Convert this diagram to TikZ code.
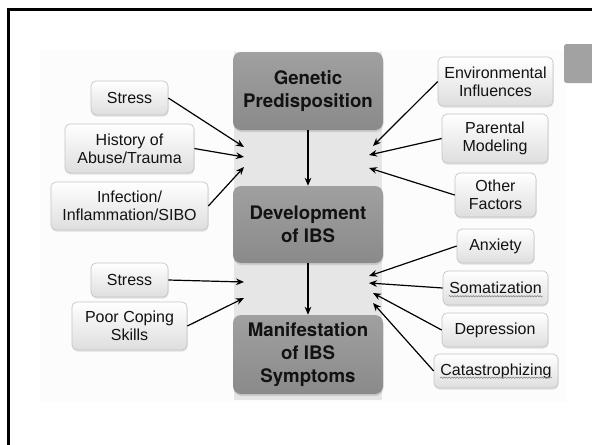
\documentclass[tikz,border=0pt]{standalone}
\usepackage{fontspec}
\setmainfont{Liberation Sans}
\newfontfamily\stagefont{TeX Gyre Heros}
\usetikzlibrary{arrows.meta,shadows,decorations.pathmorphing}
\newdimen\pix \pix=0.75pt
\definecolor{stagetop}{HTML}{A0A0A0}
\definecolor{stagelow}{HTML}{8A8A8A}
\definecolor{ink}{HTML}{121212}
\definecolor{boxedge}{HTML}{C4C4C4}
\definecolor{boxlow}{HTML}{DEDEDE}
\definecolor{strip}{HTML}{E6E6E6}
\definecolor{backdrop}{HTML}{FCFCFC}
\definecolor{tab}{HTML}{A2A2A2}
\tikzset{
  stage/.style={rounded corners=8\pix, top color=stagetop, bottom color=stagelow,
    text=ink, minimum width=150\pix, align=center, inner sep=0pt,
    font=\stagefont\fontsize{14}{17.25}\selectfont\bfseries,
    drop shadow={shadow xshift=0.4pt, shadow yshift=-1.5pt, opacity=0.25}},
  factor/.style={draw=boxedge, line width=0.5pt, rounded corners=5\pix,
    top color=white, bottom color=boxlow, text=ink, align=center, inner sep=0pt,
    font=\fontsize{12}{13.5}\selectfont,
    drop shadow={shadow xshift=0.4pt, shadow yshift=-1.2pt, opacity=0.2}},
  push/.style={-{Stealth[length=6pt,width=5pt]}, line width=0.9pt},
  spell/.style={gray, line width=0.4pt, decorate,
    decoration={snake, amplitude=0.5pt, segment length=2pt}}
}
\begin{document}
\begin{tikzpicture}[x=0.75pt, y=-0.75pt]
\useasboundingbox (0,0) rectangle (592,444);
\clip (0,0) rectangle (592,444);
% frame and backing
\draw[line width=3\pix] (8,460) |- (610,9.5);
\fill[backdrop] (40,50) rectangle (566,402);
\fill[strip] (234,52) rectangle (382,400);
\fill[tab, rounded corners=2pt] (564,44) rectangle (610,83);
% centre column
\node[stage, minimum height=78\pix] (gen) at (308,91) {Genetic\\Predisposition};
\node[stage, minimum height=77\pix] (dev) at (308,224.5) {Development\\of IBS};
\node[stage, minimum height=79\pix] (man) at (308,354.5) {Manifestation\\of IBS\\Symptoms};
\draw[push] (gen) -- (dev);
\draw[push] (dev) -- (man);
% left factors
\node[factor, minimum width=77\pix, minimum height=34\pix] (stressA) at (129.5,98) {Stress};
\node[factor, minimum width=129\pix, minimum height=49\pix] (abuse) at (129.5,148.5) {History of\\Abuse/Trauma};
\node[factor, minimum width=157\pix, minimum height=48\pix] (infect) at (129.5,206) {Infection/\\Inflammation/SIBO};
\node[factor, minimum width=77\pix, minimum height=34\pix] (stressB) at (129.5,280) {Stress};
\node[factor, minimum width=115\pix, minimum height=48\pix] (coping) at (129.5,326) {Poor Coping\\Skills};
% right factors
\node[factor, minimum width=115\pix, minimum height=49\pix] (envir) at (495.5,81.5) {Environmental\\Influences};
\node[factor, minimum width=106\pix, minimum height=49\pix] (parent) at (495,138.5) {Parental\\Modeling};
\node[factor, minimum width=81\pix, minimum height=44\pix] (other) at (495.5,195) {Other\\Factors};
\node[factor, minimum width=77\pix, minimum height=34\pix] (anx) at (495.5,246) {Anxiety};
\node[factor, minimum width=105\pix, minimum height=34\pix] (soma) at (495.5,288) {Somatization};
\node[factor, minimum width=106\pix, minimum height=34\pix] (depr) at (495,330) {Depression};
\node[factor, minimum width=124\pix, minimum height=34\pix] (catas) at (496,371) {Catastrophizing};
\draw[spell] ([xshift=6\pix, yshift=-2.5\pix]soma.base west) -- ([xshift=-6\pix, yshift=-2.5\pix]soma.base east);
\draw[spell] ([xshift=6.5\pix, yshift=-2.5\pix]catas.base west) -- ([xshift=-6.5\pix, yshift=-2.5\pix]catas.base east);
% arrow ends in the strip
\coordinate (inA) at (244,147);
\coordinate (inB) at (244,157);
\coordinate (inC) at (244,167);
\coordinate (inD) at (244,282);
\coordinate (inE) at (244,298);
\coordinate (inF) at (373,146);
\coordinate (inG) at (369,155);
\coordinate (inH) at (369,168);
\coordinate (inI) at (369,276);
\coordinate (inJ) at (369,283);
\coordinate (inK) at (373,293);
\coordinate (inL) at (373,303);
\draw[push] (stressA.east) -- (inA);
\draw[push] (abuse.east) -- (inB);
\draw[push] (infect.east) -- (inC);
\draw[push] (stressB.east) -- (inD);
\draw[push] (coping.east) -- (inE);
\draw[push] (envir.west) -- (inF);
\draw[push] (parent.west) -- (inG);
\draw[push] (other.west) -- (inH);
\draw[push] (anx.west) -- (inI);
\draw[push] (soma.west) -- (inJ);
\draw[push] (depr.west) -- (inK);
\draw[push] (catas.west) -- (inL);
\end{tikzpicture}
\end{document}
